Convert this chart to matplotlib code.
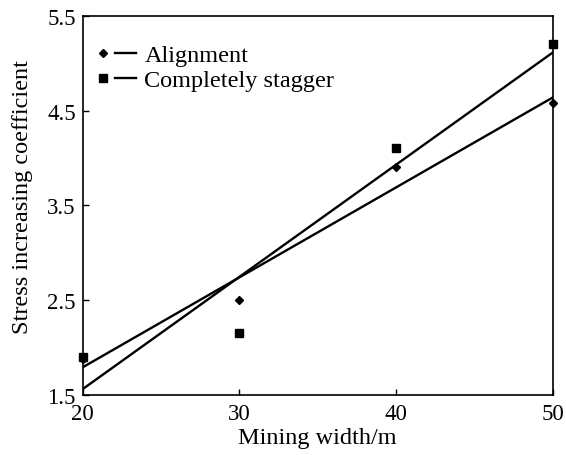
import matplotlib
matplotlib.use("Agg")
import matplotlib.pyplot as plt
import numpy as np
from matplotlib.legend_handler import HandlerTuple

plt.rcParams['font.family'] = ['Liberation Serif', 'DejaVu Serif']

# Data
mining_width = [20, 30, 40, 50]
alignment = [1.88, 2.50, 3.90, 4.58]
stagger = [1.90, 2.15, 4.10, 5.20]

fig = plt.figure(figsize=(5.66, 4.56), dpi=100)
ax = fig.add_axes([0.146, 0.132, 0.831, 0.831])

x = np.array(mining_width)

# linear fits
fit_a = np.polyfit(x, alignment, 1)
fit_s = np.polyfit(x, stagger, 1)
xf = np.array([20, 50])

pa, = ax.plot(mining_width, alignment, linestyle='none', marker='D', markersize=4.2,
              color='black', clip_on=False, zorder=3)
la, = ax.plot(xf, np.polyval(fit_a, xf), color='black', lw=1.7)
ps, = ax.plot(mining_width, stagger, linestyle='none', marker='s', markersize=6,
              color='black', clip_on=False, zorder=3)
ls, = ax.plot(xf, np.polyval(fit_s, xf), color='black', lw=1.7)

ax.set_xlim(20, 50)
ax.set_ylim(1.5, 5.5)
ax.set_xticks([20, 30, 40, 50])
ax.set_yticks([1.5, 2.5, 3.5, 4.5, 5.5])
ax.set_yticklabels(['1.5', '2.5', '3.5', '4.5', '5.5'])
ax.tick_params(direction='in', length=4, width=1, labelsize=16.5)
ax.tick_params(axis='x', pad=6)
ax.tick_params(axis='y', pad=5)

for s in ax.spines.values():
    s.set_linewidth(1.2)

ax.set_xlabel('Mining width/m', fontsize=17.5, labelpad=2)
ax.set_ylabel('Stress increasing coefficient', fontsize=17.5)
ax.yaxis.set_label_coords(-0.106, 0.525)

ax.legend([(pa, la), (ps, ls)], ['Alignment', 'Completely stagger'],
          handler_map={tuple: HandlerTuple(ndivide=None, pad=0.12)},
          loc='upper left', bbox_to_anchor=(0.021, 0.925), frameon=False,
          fontsize=17.5, handlelength=1.77, handletextpad=0.36, labelspacing=0.12,
          numpoints=1, borderaxespad=0, borderpad=0)

fig.savefig('out.png', dpi=100)
